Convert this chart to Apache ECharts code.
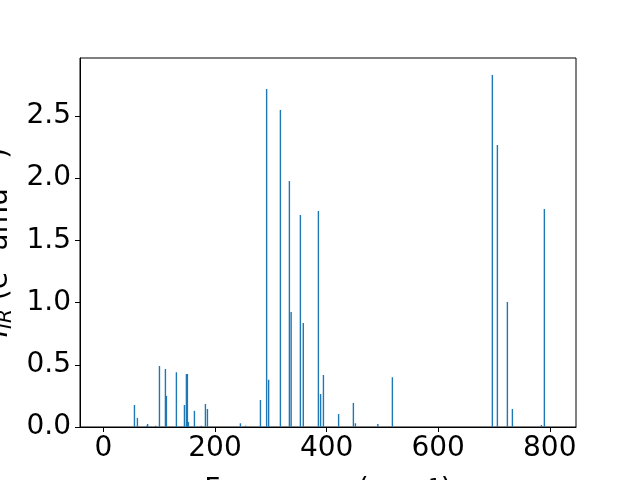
<!DOCTYPE html>
<html><head><meta charset="utf-8">
<script src="https://cdn.jsdelivr.net/npm/echarts@6/dist/echarts.min.js"></script>
<style>html,body{margin:0;padding:0;background:#fff}#c{width:640px;height:480px}</style>
</head><body><div id="c"></div>
<script>
const freqs = [55.6, 60.9, 77.4, 79.2, 93.5, 100.4, 111.1, 112.9, 130.8, 145.2, 148.7, 150.5, 152.3, 163.1, 175.6, 182.8, 186.4, 245.5, 254.8, 281.4, 292.5, 296.1, 317.2, 333.3, 336.4, 353.0, 358.2, 385.3, 389.2, 394.3, 421.5, 448.0, 451.6, 491.8, 517.9, 697.1, 706.1, 724.0, 733.0, 785.0, 790.3];
const intensities = [0.177, 0.072, 0.01, 0.024, 0.01, 0.49, 0.466, 0.25, 0.44, 0.177, 0.426, 0.426, 0.04, 0.13, 0.01, 0.185, 0.145, 0.03, 0.01, 0.217, 2.717, 0.38, 2.548, 1.977, 0.924, 1.704, 0.836, 1.736, 0.265, 0.418, 0.104, 0.193, 0.03, 0.024, 0.40, 2.83, 2.267, 1.005, 0.145, 0.016, 1.752];
const xTicks = [0, 200, 400, 600, 800];
const yTicks = [0, 0.5, 1.0, 1.5, 2.0, 2.5];

const FONT = 'DejaVu Sans';
const chart = echarts.init(document.getElementById('c'), null, {renderer: 'canvas'});
const data = freqs.map((f, i) => [f, intensities[i]]);
chart.setOption({
  animation: false,
  grid: {left: 80, right: 64, top: 58, bottom: 53, containLabel: false, outerBoundsMode: 'none',
    show: true, borderColor: '#000', borderWidth: 1, backgroundColor: 'transparent'},
  xAxis: {
    type: 'value', min: -42, max: 847,
    axisLine: {show: true, onZero: false, lineStyle: {color: '#000', width: 1}},
    axisTick: {show: true, length: 5, lineStyle: {color: '#000', width: 1}, customValues: xTicks},
    axisLabel: {color: '#000', fontSize: 28, fontFamily: FONT, margin: 8, customValues: xTicks},
    splitLine: {show: false},
    name: 'Frequency (cm{p|−1})', nameLocation: 'middle', nameGap: 50,
    nameTextStyle: {color: '#000', fontSize: 28, fontFamily: FONT, verticalAlign: 'top',
      rich: {p: {fontSize: 20, fontFamily: FONT, color: '#000', verticalAlign: 'top'}}}
  },
  yAxis: {
    type: 'value', min: 0, max: 2.966,
    axisLine: {show: true, onZero: false, lineStyle: {color: '#000', width: 1}},
    axisTick: {show: true, length: 5, lineStyle: {color: '#000', width: 1}, customValues: yTicks},
    axisLabel: {color: '#000', fontSize: 28, fontFamily: FONT, margin: 9, customValues: yTicks,
      formatter: v => v.toFixed(1)},
    splitLine: {show: false},
    name: '{i|I}{s|IR} (e{p|2} amu{p|−1})', nameLocation: 'middle', nameGap: 64, nameRotate: 90,
    nameTextStyle: {color: '#000', fontSize: 28, fontFamily: FONT,
      rich: {
        i: {fontSize: 28, fontStyle: 'italic', fontFamily: FONT, color: '#000'},
        s: {fontSize: 20, fontStyle: 'italic', fontFamily: FONT, color: '#000', verticalAlign: 'bottom', padding: [11, 0, 0, 0]},
        p: {fontSize: 20, fontFamily: FONT, color: '#000', verticalAlign: 'top'}
      }}
  },
  series: [{
    type: 'bar', data: data, barWidth: 1.4,
    itemStyle: {color: '#1f77b4'}
  }]
});
</script></body></html>
